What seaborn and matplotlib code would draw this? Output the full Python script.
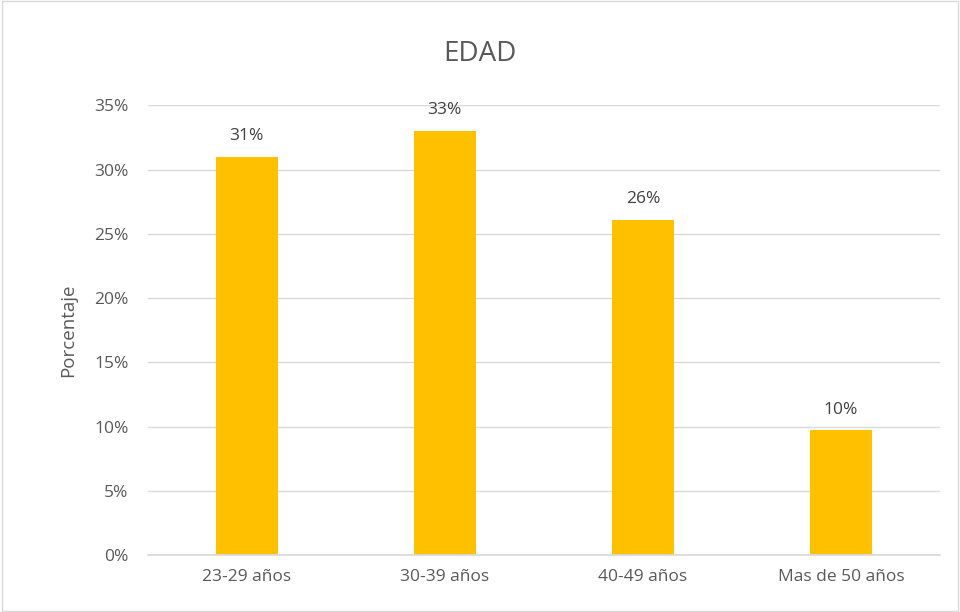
import pandas as pd
import seaborn as sns
import matplotlib.pyplot as plt
from matplotlib.ticker import PercentFormatter
from matplotlib.patches import Rectangle

# data
categorias = ["23-29 años", "30-39 años", "40-49 años", "Mas de 50 años"]
porcentajes = [0.310, 0.330, 0.261, 0.097]
etiquetas = ["31%", "33%", "26%", "10%"]

df = pd.DataFrame({"Edad": categorias, "Porcentaje": porcentajes})

sns.set_theme(style="white")
plt.rcParams['font.family'] = ['Open Sans', 'DejaVu Sans']

fig = plt.figure(figsize=(9.6, 6.12), dpi=100)
ax = fig.add_axes([0.154, 0.093, 0.825, 0.735])

sns.barplot(x="Edad", y="Porcentaje", data=df, color="#FFC000",
            width=0.31, saturation=1, linewidth=0, ax=ax)

ax.set_ylim(0, 0.35)
ax.set_yticks([i * 0.05 for i in range(8)])
ax.yaxis.set_major_formatter(PercentFormatter(1.0, decimals=0))
ax.grid(axis="y", color="#D9D9D9", linewidth=1)
ax.set_axisbelow(True)
for s in ["top", "right", "left"]:
    ax.spines[s].set_visible(False)
ax.spines["bottom"].set_color("#D9D9D9")

ax.tick_params(axis="y", colors="#595959", labelsize=12.5, length=0, pad=14)
ax.tick_params(axis="x", colors="#595959", labelsize=12.5, length=0, pad=10)
ax.set_xlabel("")
ax.set_ylabel("Porcentaje", fontsize=13.5, color="#595959", labelpad=12)

ax.bar_label(ax.containers[0], labels=etiquetas, padding=9,
             fontsize=12.5, color="#404040")

fig.suptitle("EDAD", y=0.935, fontsize=20, color="#595959")

# outer frame
fig.patches.append(Rectangle((0.002, 0.002), 0.996, 0.996, transform=fig.transFigure,
                             fill=False, edgecolor="#D9D9D9", linewidth=1))

plt.savefig("out.png", dpi=100)
